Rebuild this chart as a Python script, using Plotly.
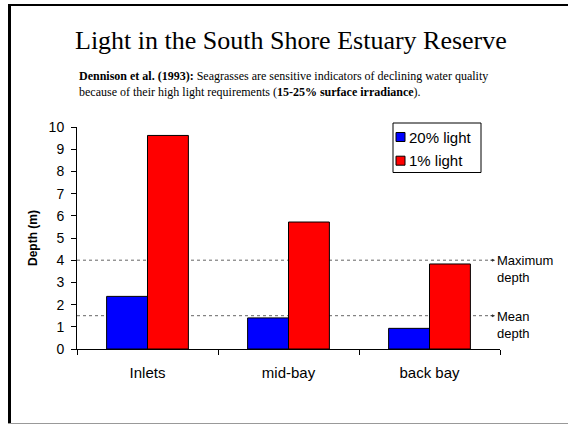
import plotly.graph_objects as go

categories = ["Inlets", "mid-bay", "back bay"]
series_names = ["20% light", "1% light"]
series_colors = ["#0000FF", "#FF0000"]
light20 = [2.37, 1.40, 0.93]
light1 = [9.62, 5.72, 3.83]
ref_levels = [4.0, 1.5]
ref_labels = ["Maximum<br>depth", "Mean<br>depth"]
y_ticks = list(range(0, 11))

W, H = 568, 424
L, R, T, B = 77, 68, 127, 75
PW, PH = W - L - R, H - T - B

def px(x):
    return (x - L) / PW

def py(y):
    return (H - B - y) / PH

fig = go.Figure()
for name, color, vals in zip(series_names, series_colors, [light20, light1]):
    fig.add_trace(go.Bar(name=name, x=categories, y=vals,
                         marker=dict(color=color, line=dict(color="black", width=1))))

shapes = []
annotations = []
for lvl, lab in zip(ref_levels, ref_labels):
    shapes.append(dict(type="line", xref="paper", yref="y", x0=0, x1=px(492), y0=lvl, y1=lvl,
                       line=dict(color="#666666", width=1, dash="dot"), layer="below"))
    annotations.append(dict(xref="paper", yref="y", x=px(495), y=lvl, text="", showarrow=True,
                            ax=-6, ay=0, arrowhead=2, arrowsize=0.6, arrowwidth=1, arrowcolor="#333333"))
    annotations.append(dict(xref="paper", yref="y", x=px(495), y=lvl, text=lab, showarrow=False,
                            xanchor="left", yanchor="top", yshift=9, align="left",
                            font=dict(family="Arial, Liberation Sans", size=13, color="black")))

# custom legend
shapes.append(dict(type="rect", xref="paper", yref="paper", x0=px(393), x1=px(481), y0=py(123), y1=py(172.5),
                   line=dict(color="black", width=1), fillcolor="white"))
for i, (name, color) in enumerate(zip(series_names, series_colors)):
    cy = 137 + i * 23.7
    shapes.append(dict(type="rect", xref="paper", yref="paper", x0=px(396), x1=px(405),
                       y0=py(cy - 4.5), y1=py(cy + 4.5), line=dict(color="black", width=1), fillcolor=color))
    annotations.append(dict(xref="paper", yref="paper", x=px(407), y=py(cy), xanchor="left", yanchor="middle",
                            text=name, showarrow=False,
                            font=dict(family="Arial, Liberation Sans", size=15, color="black")))

# slide frame
shapes.append(dict(type="line", xref="paper", yref="paper", x0=px(8), x1=px(568), y0=py(5), y1=py(5),
                   line=dict(color="black", width=2)))
shapes.append(dict(type="line", xref="paper", yref="paper", x0=px(9.5), x1=px(9.5), y0=py(4), y1=py(423),
                   line=dict(color="black", width=3)))
shapes.append(dict(type="line", xref="paper", yref="paper", x0=px(8), x1=px(568), y0=py(423.5), y1=py(423.5),
                   line=dict(color="#999999", width=1)))

annotations.append(dict(xref="paper", yref="paper", x=px(290.5), y=py(40), xanchor="center", yanchor="middle",
                        text="Light in the South Shore Estuary Reserve", showarrow=False,
                        font=dict(family="Times New Roman, Liberation Serif", size=26, color="black")))
annotations.append(dict(xref="paper", yref="paper", x=px(77), y=py(75.5), xanchor="left", yanchor="middle",
                        text="<b>Dennison et al. (1993):</b> Seagrasses are sensitive indicators of declining water quality",
                        showarrow=False, font=dict(family="Times New Roman, Liberation Serif", size=12, color="black")))
annotations.append(dict(xref="paper", yref="paper", x=px(77), y=py(91.5), xanchor="left", yanchor="middle",
                        text="because of their high light requirements (<b>15-25% surface irradiance</b>).",
                        showarrow=False, font=dict(family="Times New Roman, Liberation Serif", size=12, color="black")))
annotations.append(dict(xref="paper", yref="paper", x=px(33), y=0.5, xanchor="center", yanchor="middle",
                        text="<b>Depth (m)</b>", textangle=-90, showarrow=False,
                        font=dict(family="Arial, Liberation Sans", size=12, color="black")))

fig.update_layout(
    width=W, height=H,
    margin=dict(l=L, r=R, t=T, b=B, pad=0),
    paper_bgcolor="white", plot_bgcolor="white",
    barmode="group", bargap=0.42, bargroupgap=0,
    font=dict(family="Arial, Liberation Sans", size=13, color="black"),
    showlegend=False,
    shapes=shapes, annotations=annotations,
)
fig.update_xaxes(showline=True, linecolor="black", linewidth=1, ticks="outside", ticklen=5,
                 tickcolor="black", tickson="boundaries", showgrid=False, ticklabelstandoff=10,
                 tickfont=dict(size=15))
fig.update_yaxes(range=[0, 10], tickvals=y_ticks, showline=True, linecolor="black", linewidth=1,
                 ticks="outside", ticklen=5, tickcolor="black", showgrid=False, zeroline=False,
                 ticklabelstandoff=4, tickfont=dict(size=14))

fig.write_html("out.html", post_script="document.body.style.margin='0px';",
               config={"displayModeBar": False})
